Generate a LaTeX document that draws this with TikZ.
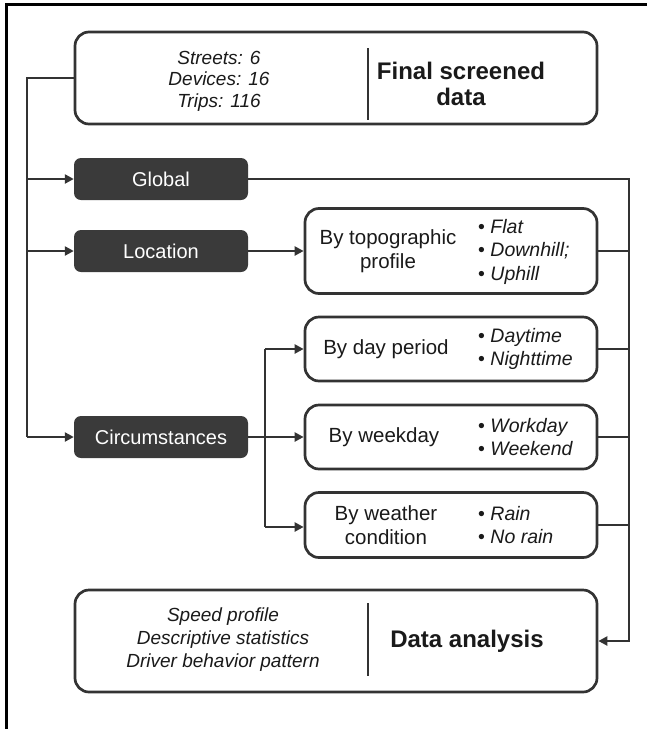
\documentclass[tikz,border=0pt]{standalone}
\usepackage{fontspec}
\setmainfont{Liberation Sans}
\usepackage{tikz}
\usetikzlibrary{arrows.meta, positioning, calc}
\definecolor{boxgray}{HTML}{3A3A3A}
\definecolor{linegray}{HTML}{333333}
\definecolor{txtgray}{HTML}{1A1A1A}
\tikzset{
	darkbox/.style={fill=boxgray, draw=none, rounded corners=7pt, text=white,
		minimum width=174pt, minimum height=42pt, inner sep=0pt,
		font=\fontsize{20}{24}\selectfont}
}
\tikzset{
	whitebox/.style={draw=linegray, line width=2.7pt, fill=white, rounded corners=14pt,
		minimum width=292pt, minimum height=64pt, inner sep=0pt}
}
\tikzset{
	labeltext/.style={text=txtgray, align=center, inner sep=0pt, font=\fontsize{20.5}{23.5}\selectfont},
	itemtext/.style={text=txtgray, align=left, anchor=west, inner sep=0pt, font=\fontsize{19.5}{23.5}\selectfont},
	notetext/.style={text=txtgray, align=center, inner sep=0pt, font=\fontsize{19}{21.5}\selectfont\itshape},
	titletext/.style={text=txtgray, align=center, inner sep=0pt, font=\fontsize{24}{26}\selectfont\bfseries},
	conn/.style={draw=linegray, line width=2.7pt},
	arr/.style={conn, -{Triangle[length=9pt, width=9pt]}}
}
\newcommand{\itm}[1]{\textbullet\ \textit{#1}}

\begin{document}
\begin{tikzpicture}[x=1pt, y=-1pt]
      \useasboundingbox (0,0) rectangle (647,729);
      % outer frame (only top and left edges show)
      \draw[line width=3pt] (6.5,729) -- (6.5,4.5) -- (647,4.5);

      % input and output boxes
      \node[whitebox, minimum width=522pt, minimum height=92pt] (data) at (336,78) {};
      \draw[conn] (368,48) -- (368,120);
      \node[notetext] (datanote) at (219,81) {Streets: 6\\Devices: 16\\Trips: 116};
      \node[titletext] (datatitle) at (461,84) {Final screened\\data};

      \node[whitebox, minimum width=522pt, minimum height=102pt] (analysis) at (336,641) {};
      \draw[conn] (368,603) -- (368,676);
      \node[notetext, font=\fontsize{19}{23}\selectfont\itshape] (analysisnote) at (223,640)
            {Speed profile\\Descriptive statistics\\Driver behavior pattern};
      \node[titletext] (analysistitle) at (467,641) {Data analysis};

      % levels
      \node[darkbox] (global) at (161,179) {Global};
      \node[darkbox] (location) at (161,251) {Location};
      \node[darkbox] (circ) at (161,437) {Circumstances};

      % sub boxes
      \node[whitebox, minimum height=85pt] (topo) at (451,251) {};
      \node[labeltext] (topol) at (388,251) {By topographic\\profile};
      \node[itemtext] (topor) at (478,251.5) {\itm{Flat}\\\itm{Downhill;}\\\itm{Uphill}};

      \node[whitebox] (day) at (451,349) {};
      \node[labeltext] (dayl) at (386,349) {By day period};
      \node[itemtext] (dayr) at (478,349) {\itm{Daytime}\\\itm{Nighttime}};

      \node[whitebox] (week) at (451,437) {};
      \node[labeltext] (weekl) at (384,437) {By weekday};
      \node[itemtext] (weekr) at (478,437) {\itm{Workday}\\\itm{Weekend}};

      \node[whitebox, minimum height=65pt] (rain) at (451,525) {};
      \node[labeltext] (rainl) at (386,525) {By weather\\condition};
      \node[itemtext] (rainr) at (478,525) {\itm{Rain}\\\itm{No rain}};

      % left trunk
      \coordinate (ltop) at (27,78);
      \coordinate (lbot) at (27,437);
      \draw[conn] (data.west) -- (ltop) -- (lbot);
      \draw[arr] (27,179) -- (global.west);
      \draw[arr] (27,251) -- (location.west);
      \draw[arr] (lbot) -- (circ.west);

      % location and circumstances branches
      \draw[arr] (location.east) -- (topo.west |- location.east);
      \coordinate (btop) at (265,349);
      \coordinate (bbot) at (265,527);
      \draw[arr] (circ.east) -- (week.west |- circ.east);
      \draw[conn] (btop) -- (bbot);
      \draw[arr] (btop) -- (day.west);
      \draw[arr] (bbot) -- (rain.west |- bbot);

      % right trunk to data analysis
      \coordinate (rtop) at (629,179);
      \coordinate (rbot) at (629,641);
      \draw[arr] (global.east) -- (rtop) -- (rbot) -- (analysis.east);
      \draw[conn] (topo.east) -- (topo.east -| rtop);
      \draw[conn] (day.east) -- (day.east -| rtop);
      \draw[conn] (week.east) -- (week.east -| rtop);
      \draw[conn] (rain.east) -- (rain.east -| rtop);
\end{tikzpicture}
\end{document}
